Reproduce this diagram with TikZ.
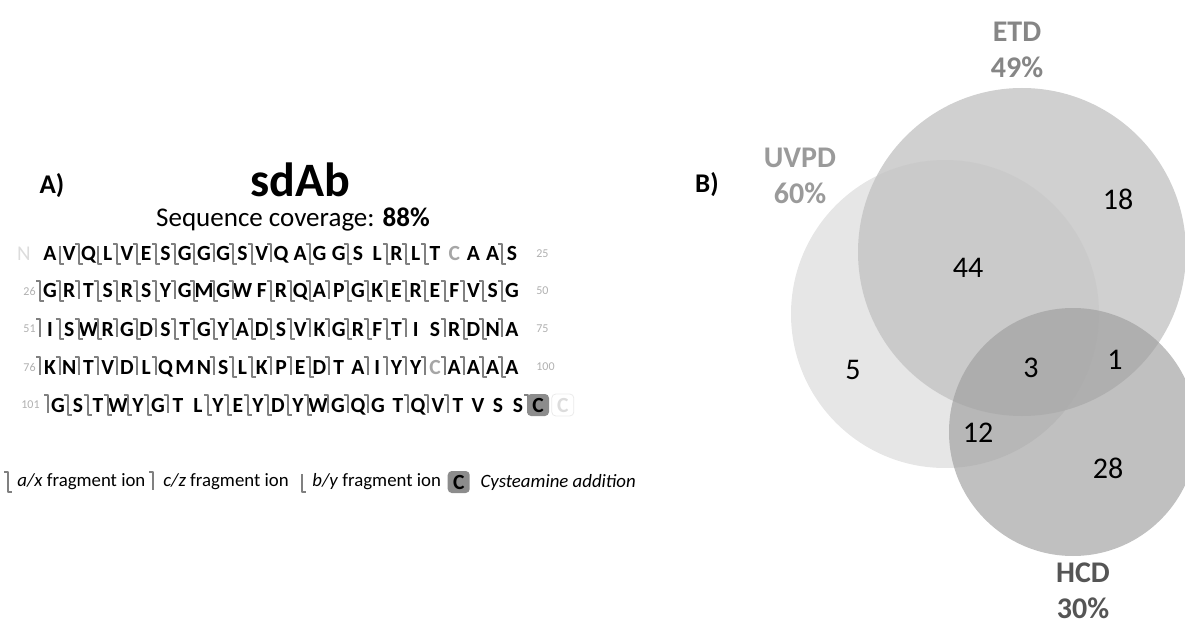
\documentclass[tikz,border=0pt]{standalone}
\usepackage{fontspec}
\setmainfont{Carlito}
\usepackage{xcolor}
\usetikzlibrary{positioning}
\definecolor{fraggray}{HTML}{808080}
\definecolor{numgray}{HTML}{B0B0B0}
\definecolor{faintc}{HTML}{A6A6A6}
\definecolor{ghost}{HTML}{DCDCDC}
\definecolor{boxgray}{HTML}{8C8C8C}
\definecolor{uvpdfill}{HTML}{E6E6E6}
\definecolor{etdfill}{HTML}{C4C4C4}
\definecolor{hcdfill}{HTML}{9E9E9E}
\definecolor{uvpdtext}{HTML}{9A9A9A}
\definecolor{etdtext}{HTML}{868686}
\definecolor{hcdtext}{HTML}{555555}
\newcommand\fc{\textcolor{faintc}{C}}

\begin{document}
\begin{tikzpicture}[
  x=0.5pt,y=-0.5pt,
  res/.style={font=\fontsize{10.8}{12}\selectfont\bfseries,inner sep=0pt,anchor=base},
  resnum/.style={font=\fontsize{6}{7}\selectfont,text=numgray,inner sep=0pt},
  frag/.style={draw=fraggray,line width=0.95pt,line join=round},
  panel/.style={font=\fontsize{13.5}{16}\selectfont\bfseries,inner sep=0pt},
  lab/.style={font=\fontsize{15}{18}\selectfont\bfseries,align=center,inner sep=0pt},
  cnt/.style={font=\fontsize{15}{17}\selectfont,inner sep=0pt},
  leg/.style={font=\fontsize{9.4}{11}\selectfont,inner sep=0pt,anchor=west},
  cys/.style={fill=boxgray,rounded corners=2pt,minimum size=11pt,inner sep=0pt,
              font=\fontsize{10.8}{12}\selectfont\bfseries},
  mku/.pic={\draw[frag] (-4,-10) -- (0,-10) -- (0,8);},
  mkl/.pic={\draw[frag] (0,-8) -- (0,10) -- (4,10);},
  mkb/.pic={\draw[frag] (-4,-10) -- (0,-10) -- (0,10) -- (4,10);},
  mkn/.pic={}
]
\path[use as bounding box,clip] (0,0) rectangle (1185,626);

% panel A
\node[panel] (pa) at (52,186) {A)};
\node[font=\fontsize{24}{28}\selectfont\bfseries] (title) at (300,180) {sdAb};
\node[font=\fontsize{13.5}{16}\selectfont] (cov) at (293,219) {Sequence coverage: \textbf{88\%}};

% sequence rows
\node[text=ghost,font=\fontsize{10.5}{12}\selectfont] (nterm) at (24,254) {N};
\foreach \r [count=\i] in {A,V,Q,L,V,E,S,G,G,G,S,V,Q,A,G,G,S,L,R,L,T,\fc,A,A,S}
  \node[res] (r1-\i) at ({50+(\i-1)*19.25},261) {\r};
\foreach \m [count=\i] in {n,l,b,l,b,b,b,b,b,u,b,b,u,n,b,n,b,n,b,b,b,n,n,n,b}
  \pic at ({50+(\i-1.5)*19.25},254) {mk\m};
\node[resnum,anchor=west] (p25) at (536,254) {25};

\node[resnum,anchor=east] (p26) at (36,291) {26};
\foreach \r [count=\i] in {G,R,T,S,R,S,Y,G,M,G,W,F,R,Q,A,P,G,K,E,R,E,F,V,S,G}
  \node[res] (r2-\i) at ({50+(\i-1)*19.25},298) {\r};
\foreach \m [count=\i] in {b,b,u,b,b,b,b,u,b,b,u,n,b,b,b,u,b,b,b,b,b,b,b,b,b}
  \pic at ({50+(\i-1.5)*19.25},291) {mk\m};
\node[resnum,anchor=west] (p50) at (536,291) {50};

\node[resnum,anchor=east] (p51) at (36,329) {51};
\foreach \r [count=\i] in {I,S,W,R,G,D,S,T,G,Y,A,D,S,V,K,G,R,F,T,I,S,R,D,N,A}
  \node[res] (r3-\i) at ({50+(\i-1)*19.25},336) {\r};
\foreach \m [count=\i] in {u,b,b,b,u,b,u,b,b,b,b,b,b,b,u,u,b,b,b,u,n,u,b,b,u}
  \pic at ({50+(\i-1.5)*19.25},329) {mk\m};
\node[resnum,anchor=west] (p75) at (536,329) {75};

\node[resnum,anchor=east] (p76) at (36,367) {76};
\foreach \r [count=\i] in {K,N,T,V,D,L,Q,M,N,S,L,K,P,E,D,T,A,I,Y,Y,\fc,A,A,A,A}
  \node[res] (r4-\i) at ({50+(\i-1)*19.25},374) {\r};
\foreach \m [count=\i] in {u,u,u,u,u,u,u,n,n,u,b,b,u,u,b,u,n,u,u,u,u,u,u,b,b}
  \pic at ({50+(\i-1.5)*19.25},367) {mk\m};
\node[resnum,anchor=west] (p100) at (536,367) {100};

\node[resnum,anchor=east] (p101) at (40,405) {101};
\foreach \r [count=\i] in {G,S,T,W,Y,G,T,L,Y,E,Y,D,Y,W,G,Q,G,T,Q,V,T,V,S,S}
  \node[res] (r5-\i) at ({58+(\i-1)*20},412) {\r};
\foreach \m [count=\i] in {u,b,b,b,b,b,u,n,b,b,b,b,b,b,u,u,u,n,u,u,u,n,n,n,u}
  \pic at ({58+(\i-1.5)*20},405) {mk\m};
\node[cys] (cys) at (538,405) {C};
\node[cys,fill=none,draw=ghost!60,text=ghost,right=1pt of cys] (ghostc) {C};

% legend
\pic at (8,482) {mkb};
\node[leg] (ax) at (17,482) {\textit{a/x} fragment ion};
\pic at (153,482) {mku};
\node[leg] (cz) at (163,482) {\textit{c/z} fragment ion};
\pic at (302,482) {mkl};
\node[leg] (by) at (312,482) {\textit{b/y} fragment ion};
\node[cys,minimum size=11pt,right=3pt of by] (legc) {C};
\node[leg,right=5pt of legc] (cysadd) {\textit{Cysteamine addition}};

% panel B
\node[panel] (pb) at (707,185) {B)};
\fill[uvpdfill] (945,314) circle[radius=154];
\fill[etdfill,fill opacity=0.8] (1022,252) circle[radius=164];
\fill[hcdfill,fill opacity=0.65] (1073,432) circle[radius=124];

\node[lab,text=etdtext] (etd) at (1017,50) {ETD\\49\%};
\node[lab,text=uvpdtext] (uvpd) at (800,176) {UVPD\\60\%};
\node[lab,text=hcdtext] (hcd) at (1083,591) {HCD\\30\%};

\node[cnt] (n18) at (1118,199) {18};
\node[cnt] (n44) at (968,268) {44};
\node[cnt] (n5) at (853,370) {5};
\node[cnt] (n3) at (1031,368) {3};
\node[cnt] (n1) at (1115,360) {1};
\node[cnt] (n12) at (978,433) {12};
\node[cnt] (n28) at (1108,468) {28};
\end{tikzpicture}
\end{document}
